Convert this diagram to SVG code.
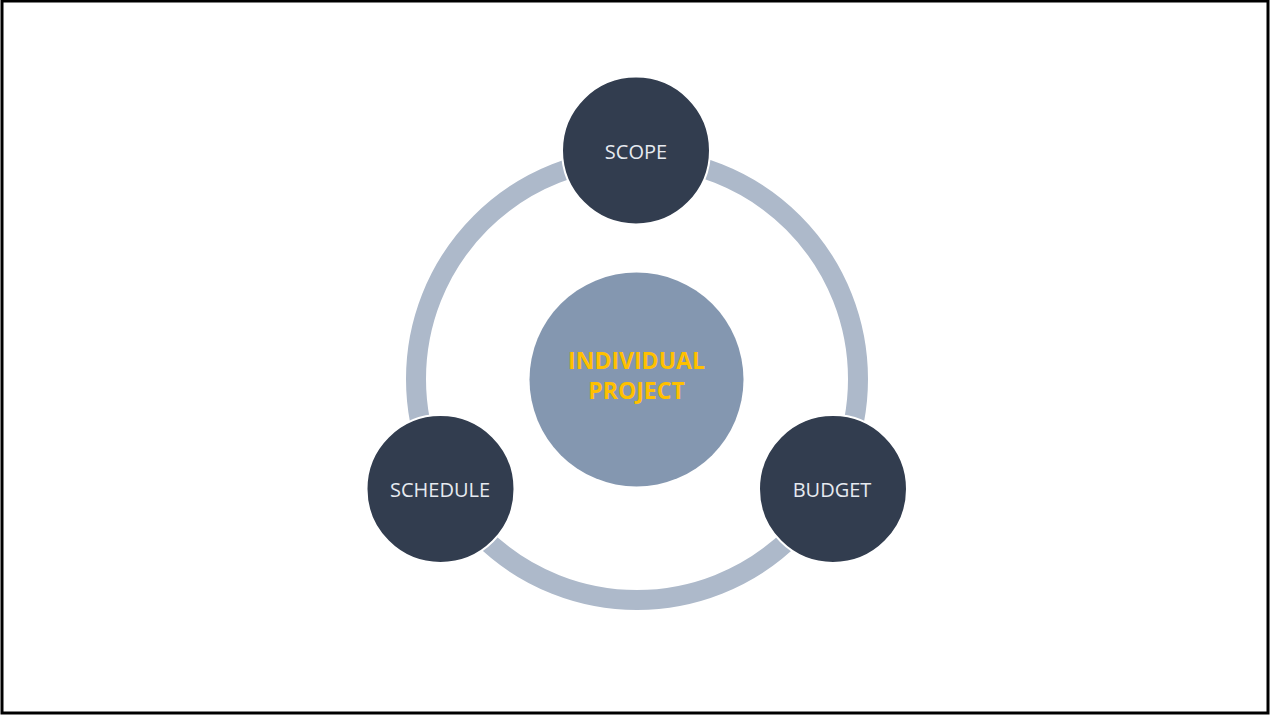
<svg xmlns="http://www.w3.org/2000/svg" width="1270" height="715" viewBox="0 0 1270 715">
<style>
.node{fill:#323D4F;stroke:#ffffff;stroke-width:2}
.lbl{font-family:"Open Sans","Noto Sans",sans-serif;font-size:20px;fill:#E6EAF0;text-anchor:middle}
.ctr{font-family:"Open Sans","Noto Sans",sans-serif;font-size:23px;font-weight:bold;fill:#FFC000;text-anchor:middle}
</style>
<rect x="0" y="0" width="1270" height="715" fill="#ffffff"/>
<rect x="2" y="1" width="1266" height="712" fill="none" stroke="#000000" stroke-width="3"/>
<g id="connectors">
<circle cx="637" cy="379" r="221" fill="none" stroke="#ADB9CA" stroke-width="20"/>
</g>
<g id="center">
<circle cx="636.5" cy="379.5" r="107" fill="#8497B0"/>
<text class="ctr" x="636.5" y="369"><tspan x="636.5">INDIVIDUAL</tspan><tspan x="636.5" dy="30">PROJECT</tspan></text>
</g>
<g id="scope">
<circle class="node" cx="636" cy="150.5" r="74"/>
<text class="lbl" x="636" y="159">SCOPE</text>
</g>
<g id="schedule">
<circle class="node" cx="440.5" cy="489" r="74"/>
<text class="lbl" x="440" y="497">SCHEDULE</text>
</g>
<g id="budget">
<circle class="node" cx="833" cy="489" r="74"/>
<text class="lbl" x="832" y="497">BUDGET</text>
</g>
</svg>
